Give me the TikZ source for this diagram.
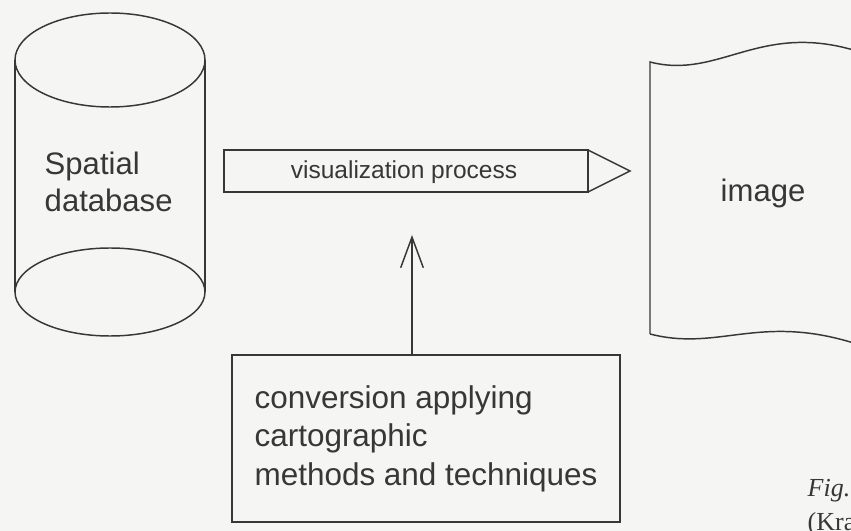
\documentclass[tikz,border=0pt]{standalone}
\usepackage{fontspec}
\setmainfont{Liberation Serif}
\setsansfont{Liberation Sans}
\usetikzlibrary{arrows.meta}

\definecolor{ink}{RGB}{55,55,55}
\definecolor{paper}{RGB}{245,245,244}

\begin{document}
\begin{tikzpicture}[x=0.75pt,y=0.75pt,yscale=-1,xscale=1,
  color=ink,line width=1.1pt,
  lbl/.style={font=\sffamily\fontsize{23.3}{26.3}\selectfont,text=ink,inner sep=0pt,align=left},
  pagetxt/.style={font=\fontsize{19.5}{22}\selectfont,text=ink,inner sep=0pt,anchor=base west}]
%set diagram at 851 x 531
\useasboundingbox (0,0) rectangle (851,531);
\fill[paper] (0,0) rectangle (851,531);
\clip (0,0) rectangle (851,531);

%Shape: Can [id:db]
\draw (110,60) ellipse [x radius=95, y radius=47];
\draw (110,292) ellipse [x radius=95, y radius=44];
\draw (15,60) -- (15,292) (205,60) -- (205,292);

%Shape: Arrow [id:proc]
\draw (224,150) rectangle (588,192);
\draw (588,150) -- (630,171) -- (588,192);

%Shape: Document [id:img]
\draw (650,334) -- (650,62) .. controls (720,80) and (760,20) .. (860,52);
\draw (650,334) .. controls (720,352) and (760,312) .. (860,345);

% Text Node
\node[lbl,anchor=base west] (db) at (44,212) {Spatial\\[2pt]database};
% Text Node
\node[lbl,anchor=base,font=\sffamily\fontsize{18.4}{22}\selectfont] (proc) at (404,179) {visualization process};
% Text Node
\node[lbl,anchor=base west] (img) at (720,202) {image};
% Text Node
\node[lbl,draw,line width=1.1pt,minimum width=291pt,minimum height=125.25pt,
  font=\sffamily\fontsize{23.6}{28.9}\selectfont] (conv) at (426,438.5)
  {conversion applying\\cartographic\\methods and techniques};

%Straight Lines [id:feed]
\coordinate (feedtip) at (412,235);
\draw[-{Straight Barb[length=23pt,width=17pt,line width=1.1pt]}] (conv.north -| feedtip) -- (feedtip);

% Text Node
\node[pagetxt,font=\itshape\fontsize{19.5}{22}\selectfont] (fig) at (807,496) {Fig.};
% Text Node
\node[pagetxt] (src) at (807,530) {(Kra};
\end{tikzpicture}
\end{document}
